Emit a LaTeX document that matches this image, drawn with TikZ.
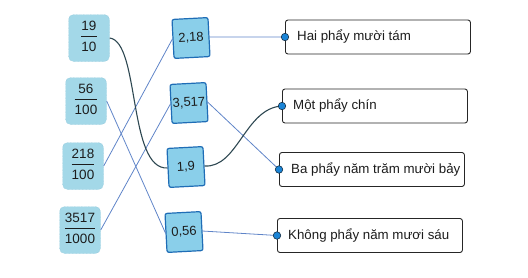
\documentclass[tikz,border=0pt]{standalone}
\usepackage{fontspec}
\setmainfont{Liberation Sans}
\definecolor{fracfill}{HTML}{A3D8E8}
\definecolor{fracdraw}{HTML}{7DB9CF}
\definecolor{decfill}{HTML}{8ACFEA}
\definecolor{decdraw}{HTML}{1F6DB6}
\definecolor{linkc}{HTML}{5F84C8}
\definecolor{curvec}{HTML}{2E4852}
\definecolor{dotfill}{HTML}{1A84D6}
\definecolor{dotdraw}{HTML}{16324A}
\definecolor{textc}{HTML}{1C1C1C}
\setlength{\arrayrulewidth}{0.7pt}
\newcommand\myfr[2]{\begin{tabular}{@{}c@{}}#1\\[1pt]\hline\rule{0pt}{14pt}#2\end{tabular}}
\begin{document}
\begin{tikzpicture}[x=1pt,y=-1pt,
  frac/.style={fill=fracfill, draw=fracdraw, densely dotted, rounded corners=5pt,
    minimum width=41pt, minimum height=47pt, inner sep=0pt,
    font=\fontsize{13.5}{15}\selectfont, text=textc},
  dec/.style={fill=decfill, draw=decdraw, line width=1.2pt, rounded corners=2pt,
    minimum width=36pt, minimum height=39pt, inner sep=0pt, rotate=3,
    font=\fontsize{13}{15}\selectfont, text=textc},
  lab/.style={draw=black!85, line width=0.9pt, rounded corners=2.5pt,
    minimum width=185pt, minimum height=34pt, inner sep=0pt, anchor=west},
  labtxt/.style={anchor=west, inner sep=0pt, text=textc, font=\fontsize{13.3}{15}\selectfont},
  dot/.style={circle, fill=dotfill, draw=dotdraw, line width=0.6pt, minimum size=7.5pt, inner sep=0pt},
  link/.style={draw=linkc, line width=0.8pt},
  curve/.style={draw=curvec, line width=1.1pt}]
\useasboundingbox (0,0) rectangle (528,277);

% fractions
\node[frac] (f1) at (89,38) {\myfr{19}{10}};
\node[frac] (f2) at (86,101) {\myfr{56}{100}};
\node[frac] (f3) at (83,166) {\myfr{218}{100}};
\node[frac] (f4) at (80,230) {\myfr{3517}{1000}};

% decimals
\node[dec] (d1) at (191,38) {2,18};
\node[dec] (d2) at (189,103) {3,517};
\node[dec] (d3) at (186,167) {1,9};
\node[dec] (d4) at (184,232) {0,56};

% labels
\node[lab] (r1) at (285,37) {};
\node[labtxt] (t1) at ([xshift=12pt]r1.west) {Hai phẩy mười tám};
\node[lab] (r2) at (282,106) {};
\node[labtxt] (t2) at ([xshift=11pt]r2.west) {Một phẩy chín};
\node[lab] (r3) at (279,169.5) {};
\node[labtxt] (t3) at ([xshift=12pt]r3.west) {Ba phẩy năm trăm mười bảy};
\node[lab] (r4) at (277,235.5) {};
\node[labtxt] (t4) at ([xshift=11pt]r4.west) {Không phẩy năm mươi sáu};

% connectors
\draw[link] (f2.east) -- (d4.west);
\draw[link] (f3.east) -- (d1.west);
\draw[link] (f4.east) -- (d2.west);
\draw[link] (d1.east) -- (r1.west);
\draw[link] (d2.east) -- (r3.west);
\draw[link] (d4.east) -- (r4.west);
\draw[curve] (f1.east) .. controls (140,42) and (128,170) .. (d3.west);
\draw[curve] (d3.east) .. controls (238,168) and (245,108) .. (r2.west);

% dots
\node[dot] (p1) at (r1.west) {};
\node[dot] (p2) at (r2.west) {};
\node[dot] (p3) at (r3.west) {};
\node[dot] (p4) at (r4.west) {};
\end{tikzpicture}
\end{document}
